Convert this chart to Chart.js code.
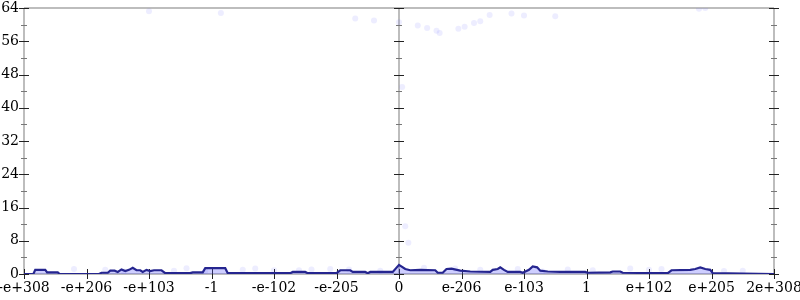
<!DOCTYPE html>
<html lang="en">
<head>
  <meta charset="UTF-8" />
  <title>Float histogram</title>
  <style>
    * { margin: 0; padding: 0; box-sizing: border-box; }
    body { background: #fff; width: 800px; height: 300px; overflow: hidden; }
    #wrap { position: relative; width: 800px; height: 300px; }
  </style>
  <script src="https://cdn.jsdelivr.net/npm/chart.js"></script>
</head>
<body>
  <div id="wrap"><canvas id="chart"></canvas></div>
  <script>
    // tick labels on the x axis (one per unit, 0..12)
    const xTickLabels = ['-e+308', '-e+206', '-e+103', '-1', '-e-102', '-e-205', '0',
                         'e-206', 'e-103', '1', 'e+102', 'e+205', '2e+308'];

    // histogram outline
    const histX = [0, 0.15, 0.18, 0.34, 0.37, 0.54, 0.57, 1.2, 1.24, 1.34, 1.38, 1.45, 1.5, 1.56, 1.62,
                   1.68, 1.74, 1.8, 1.86, 1.9, 1.96, 2.02, 2.08, 2.2, 2.26, 2.66, 2.7, 2.86, 2.9, 3.22,
                   3.26, 4.26, 4.3, 4.5, 4.54, 5.0, 5.06, 5.22, 5.26, 5.46, 5.5, 5.54, 5.9, 6.0, 6.1,
                   6.18, 6.34, 6.58, 6.62, 6.7, 6.76, 6.84, 6.98, 7.14, 7.46, 7.5, 7.58, 7.62, 7.68,
                   7.74, 7.94, 7.98, 8.08, 8.14, 8.21, 8.26, 8.38, 8.58, 8.98, 9.02, 9.38, 9.42, 9.54,
                   9.58, 10.3, 10.36, 10.66, 10.74, 10.82, 10.9, 10.98, 11.02, 12];
    const histY = [0, 0, 1, 1, 0.4, 0.4, 0, 0, 0.3, 0.3, 0.8, 0.8, 0.5, 1.1, 0.7,
                   1.0, 1.5, 0.9, 0.9, 0.5, 1.0, 0.7, 0.9, 0.9, 0.2, 0.2, 0.4, 0.4, 1.4, 1.4,
                   0.2, 0.2, 0.5, 0.5, 0.2, 0.2, 0.9, 0.9, 0.5, 0.5, 0.2, 0.5, 0.5, 2.2, 1.2,
                   0.9, 1.0, 0.9, 0.3, 0.3, 1.2, 1.3, 0.8, 0.6, 0.5, 1.0, 1.2, 1.6, 1.0,
                   0.5, 0.5, 0.3, 1.0, 1.8, 1.6, 0.8, 0.6, 0.5, 0.5, 0.3, 0.4, 0.6, 0.6,
                   0.3, 0.2, 0.9, 1.0, 1.2, 1.6, 1.2, 1.0, 0.2, 0];

    // faint sample dots
    const dotX = [2.0, 3.15, 5.3, 5.6, 6.0, 6.3, 6.45, 6.6, 6.65, 6.95, 7.05, 7.2, 7.3, 7.45, 7.8,
                  8.0, 8.5, 10.8, 10.9, 6.05, 6.1, 6.15,
                  0.8, 1.3, 2.4, 2.6, 3.5, 3.7, 4.0, 4.6, 4.9, 5.7, 6.4, 6.9, 7.3, 7.9, 8.7, 9.1,
                  9.7, 10.0, 10.2, 11.2, 11.5, 1.6, 2.9, 4.4, 5.2, 8.3];
    const dotY = [63.2, 62.8, 61.5, 61.0, 60.6, 59.8, 59.2, 58.5, 58.0, 59.0, 59.5, 60.4, 60.8, 62.3, 62.7,
                  62.2, 62.0, 63.8, 64.0, 45, 11.5, 7.5,
                  1.2, 1.0, 0.8, 1.4, 1.0, 1.3, 0.9, 1.1, 1.2, 0.8, 1.5, 1.3, 1.0, 1.2, 1.1, 0.9,
                  1.3, 1.0, 1.2, 0.7, 0.8, 0.6, 0.7, 0.9, 1.1, 0.6];

    const axisColor = '#bdbdbd';

    // axis lines + crossing tick marks
    const axesPlugin = {
      id: 'axes',
      beforeDatasetsDraw(chart) {
        const { ctx, chartArea: a, scales: { x, y } } = chart;
        ctx.save();
        ctx.lineWidth = 2;
        ctx.strokeStyle = axisColor;
        ctx.beginPath();
        ctx.moveTo(a.left, a.top); ctx.lineTo(a.right, a.top);
        ctx.moveTo(a.left, a.top); ctx.lineTo(a.left, a.bottom);
        ctx.moveTo(a.right, a.top); ctx.lineTo(a.right, a.bottom);
        const cx = x.getPixelForValue(6);
        ctx.moveTo(cx, a.top); ctx.lineTo(cx, a.bottom);
        ctx.moveTo(a.left, a.bottom); ctx.lineTo(a.right, a.bottom);
        ctx.stroke();

        ctx.lineWidth = 1;
        [a.left, cx, a.right].forEach(px => {
          for (let v = 0; v <= 64; v += 4) {
            const py = Math.round(y.getPixelForValue(v)) + 0.5;
            const major = v % 8 === 0;
            const h = major ? 5 : 3;
            ctx.strokeStyle = major ? '#222' : '#777';
            ctx.beginPath();
            ctx.moveTo(px - h, py); ctx.lineTo(px + h, py);
            ctx.stroke();
          }
        });
        ctx.strokeStyle = '#222';
        for (let i = 0; i < xTickLabels.length; i++) {
          const px = Math.round(x.getPixelForValue(i)) + 0.5;
          ctx.beginPath();
          ctx.moveTo(px, a.bottom - 5); ctx.lineTo(px, a.bottom + 5);
          ctx.stroke();
        }
        ctx.restore();
      }
    };

    const font = { family: "'DejaVu Serif', serif", size: 14 };

    new Chart(document.getElementById('chart'), {
      type: 'scatter',
      data: {
        datasets: [
          {
            data: dotX.map((v, i) => ({ x: v, y: dotY[i] })),
            pointRadius: 3,
            pointBorderWidth: 0,
            backgroundColor: 'rgba(110,110,255,0.12)',
            borderColor: 'rgba(110,110,255,0.12)',
            order: 2
          },
          {
            type: 'line',
            data: histX.map((v, i) => ({ x: v, y: histY[i] })),
            borderColor: '#25258f',
            borderWidth: 2.2,
            backgroundColor: 'rgba(80,80,255,0.28)',
            fill: 'origin',
            pointRadius: 0,
            tension: 0,
            order: 1
          }
        ]
      },
      options: {
        responsive: true,
        maintainAspectRatio: false,
        animation: false,
        layout: { padding: 0 },
        plugins: { legend: { display: false }, tooltip: { enabled: false } },
        scales: {
          x: {
            type: 'linear',
            min: 0,
            max: 12,
            grid: { display: false, drawTicks: false },
            border: { display: false },
            afterFit(s) {
              s.height = 26;
              s.paddingLeft = 0;
              s.paddingRight = 26;
            },
            ticks: {
              stepSize: 1,
              autoSkip: false,
              maxRotation: 0,
              padding: 6,
              color: '#000',
              font,
              callback: v => xTickLabels[v] ?? ''
            }
          },
          y: {
            min: 0,
            max: 64,
            grid: { display: false, drawTicks: false },
            border: { display: false },
            afterFit(s) {
              s.width = 24;
              s.paddingTop = 8;
              s.paddingBottom = 0;
            },
            ticks: {
              stepSize: 4,
              padding: 5,
              color: '#000',
              font,
              callback: v => (v % 8 === 0 ? String(v) : '')
            }
          }
        }
      },
      plugins: [axesPlugin]
    });
  </script>
</body>
</html>
